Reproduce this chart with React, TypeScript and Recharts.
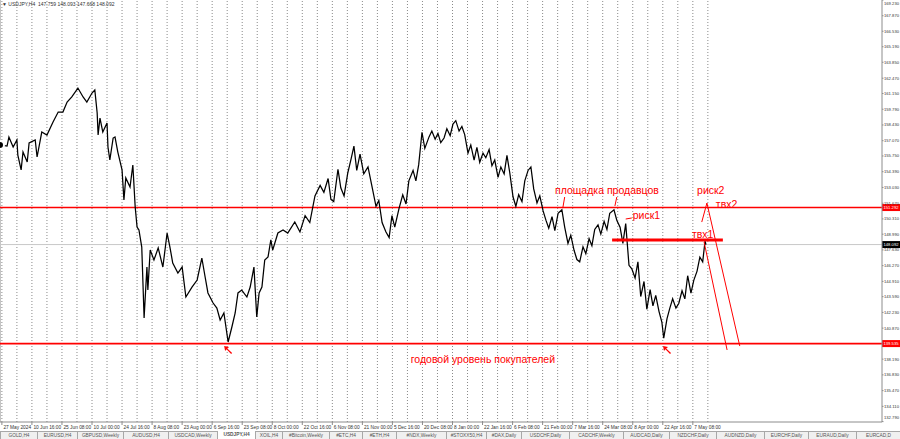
import React from 'react'
import { ComposedChart, Line, XAxis, YAxis, ReferenceLine, ReferenceDot } from 'recharts'

const RED = '#ff0000'
const AXIS = '#8c8c8c'
const FONT = '"Liberation Sans", Arial, sans-serif'

const barIndex = [
  0, 15, 19, 28, 36, 38, 45, 49, 58, 62, 75, 79, 89, 100, 113, 124, 134, 143, 153, 166,
  177, 185, 196, 202, 207, 209, 213, 219, 228, 230, 234, 241, 245, 251, 260, 264, 268, 277, 283, 288,
  292, 296, 302, 307, 313, 315, 320, 328, 337, 347, 356, 362, 368, 379, 388, 396, 409, 420, 430, 437,
  443, 454, 462, 469, 477, 486, 494, 501, 507, 515, 526, 533, 541, 547, 552, 558, 564, 571, 577, 581,
  592, 603, 613, 628, 639, 650, 660, 671, 682, 690, 699, 705, 711, 720, 726, 733, 741, 748, 754, 760,
  767, 775, 784, 792, 801, 807, 814, 822, 829, 835, 841, 850, 858, 865, 871, 880, 886, 892, 899, 905,
  914, 920, 927, 933, 939, 946, 952, 959, 965, 971, 978, 984, 990, 997, 1003, 1010, 1016, 1022, 1029, 1035,
  1042, 1048, 1054, 1061, 1067, 1074, 1080, 1086, 1093, 1099, 1105, 1112, 1118, 1125, 1131, 1137, 1144, 1150, 1157, 1163,
  1169, 1176, 1182, 1189, 1197, 1203, 1210, 1216, 1223, 1229, 1235, 1242, 1248, 1255, 1261, 1267, 1274, 1280, 1287, 1293,
  1299, 1308, 1314, 1321, 1327, 1333, 1340, 1346, 1353, 1359, 1365, 1372, 1378, 1385, 1391, 1397, 1404, 1410, 1414, 1421,
  1427, 1433, 1440, 1446, 1453, 1459, 1465, 1472, 1478, 1485, 1491, 1497, 1502, 1504,
]
const closePrice = [
  156.7, 156.61, 157.39, 156.52, 157.13, 155.83, 154.54, 156.09, 155.23, 156.87, 157.13, 155.66, 157.82, 157.56, 158.69, 159.55, 159.55, 160.41, 160.85, 161.62,
  160.85, 160.41, 161.19, 161.45, 159.46, 157.56, 159.03, 157.82, 158.6, 156.52, 155.4, 157.3, 157.39, 156.09, 154.54, 151.94, 153.85, 153.07, 154.97, 151.34,
  149.61, 149.35, 147.88, 141.74, 146.15, 144.16, 147.62, 146.76, 147.8, 146.15, 149.09, 147.88, 146.5, 145.63, 146.15, 143.56, 144.42, 145.03, 146.93, 145.29,
  143.91, 143.04, 142.61, 141.57, 142.18, 139.67, 140.97, 142.18, 143.91, 144.16, 143.56, 144.42, 146.15, 141.83, 143.91, 144.42, 146.76, 147.02, 148.49, 147.62,
  149.09, 149.35, 149.09, 150.04, 149.18, 150.6, 150.0, 152.3, 153.2, 152.6, 153.8, 152.0, 151.8, 154.6, 153.0, 152.3, 154.3, 155.5, 156.6, 154.5,
  155.9, 154.2, 154.8, 153.2, 151.4, 151.9, 150.0, 149.2, 148.7, 150.6, 149.6, 151.2, 152.4, 151.6, 153.6, 154.5, 153.6, 155.0, 157.8, 156.4,
  157.4, 157.9, 157.2, 157.7, 156.9, 157.3, 158.1, 157.5, 158.5, 158.8, 157.9, 158.3, 157.6, 156.0, 156.7, 155.4, 156.5, 155.2, 156.0, 155.6,
  156.3, 154.9, 155.4, 153.9, 154.8, 154.2, 155.8, 154.3, 152.2, 151.4, 152.4, 151.8, 153.6, 154.5, 154.8, 152.9, 151.7, 152.3, 151.0, 150.2,
  149.5, 150.5, 149.3, 150.8, 151.1, 149.6, 148.2, 148.9, 147.6, 146.8, 146.6, 147.9, 147.3, 148.6, 148.0, 149.4, 149.8, 149.0, 150.1, 149.4,
  150.8, 151.1, 150.2, 149.6, 148.2, 149.9, 146.3, 146.0, 145.2, 146.6, 143.6, 144.9, 142.5, 144.2, 142.8, 143.7, 142.3, 141.4, 140.0, 141.7,
  142.6, 143.4, 142.6, 143.0, 144.1, 143.4, 145.4, 143.9, 145.0, 145.8, 147.0, 146.6, 148.4, 148.092,
]

const dateTicks = [4, 68, 132, 196, 260, 324, 388, 452, 516, 580, 644, 708, 772, 836, 900, 964, 1028, 1092, 1156, 1220, 1284, 1348, 1412, 1476]
const dateLabels = [
  '27 May 2024', '10 Jun 16:00', '25 Jun 08:00', '10 Jul 00:00', '24 Jul 16:00', '8 Aug 08:00',
  '23 Aug 00:00', '6 Sep 16:00', '23 Sep 08:00', '8 Oct 00:00', '22 Oct 16:00', '6 Nov 08:00',
  '21 Nov 00:00', '5 Dec 16:00', '20 Dec 08:00', '8 Jan 00:00', '22 Jan 16:00', '6 Feb 08:00',
  '21 Feb 00:00', '7 Mar 16:00', '24 Mar 08:00', '8 Apr 00:00', '22 Apr 16:00', '7 May 08:00',
]

const priceTicks = [
  169.23, 167.87, 166.53, 165.19, 163.85, 162.47, 161.15, 159.79, 158.43, 157.07, 155.75, 154.39, 153.03, 151.67,
  150.31, 148.99, 147.63, 146.27, 144.91, 143.59, 142.23, 140.87, 138.19, 136.83, 135.47, 134.11, 132.79,
]

const sellersLevel = 151.292
const bidPrice = 148.092
const buyersLevel = 139.535

// hand-drawn objects on the chart, in bar / price
const segments = [
  { a: [1304, 148.49], b: [1540, 148.49], w: 3 },
  { a: [1500, 148.31], b: [1549, 138.98], w: 1 },
  { a: [1495, 150.04], b: [1506, 151.68], w: 1 },
  { a: [1506, 151.68], b: [1576, 139.32], w: 1 },
  { a: [1203, 152.2], b: [1199, 151.25], w: 1 },
  { a: [1314, 152.2], b: [1310, 151.43], w: 1 },
  { a: [1333, 150.3], b: [1346, 150.39], w: 1 },
]
const notes = [
  { bar: 1293, price: 152.81, text: 'площадка продавцов', anchor: 'middle' },
  { bar: 1348, price: 150.65, text: 'риск1', anchor: 'start' },
  { bar: 1474, price: 149.0, text: 'твх1', anchor: 'start' },
  { bar: 1485, price: 152.81, text: 'риск2', anchor: 'start' },
  { bar: 1525, price: 151.6, text: 'твх2', anchor: 'start' },
  { bar: 875, price: 138.2, text: 'годовой уровень покупателей', anchor: 'start' },
]
const arrows = [
  { bar: 486, price: 138.98 },
  { bar: 1421, price: 138.98 },
]

const tabNames = [
  'GOLD,H4', 'EURUSD,H4', 'GBPUSD,Weekly', 'AUDUSD,H4', 'USDCAD,Weekly', 'USDJPY,H4', 'XOIL,H4', '#Bitcoin,Weekly',
  '#ETC,H4', '#ETH,H4', '#NDX,Weekly', '#STOXX50,H4', '#DAX,Daily', 'USDCHF,Daily', 'CADCHF,Weekly', 'AUDCAD,Daily',
  'NZDCHF,Daily', 'AUDNZD,Daily', 'EURCHF,Daily', 'EURAUD,Daily', 'EURCAD,D',
]
const tabWidths = [37, 40, 46, 45, 49, 38, 27, 47, 33, 34, 50, 40, 35, 48, 54, 46, 47, 48, 44, 48, 44]

const data = barIndex.map((bar, i) => ({ bar, close: closePrice[i] }))
const gridBars = dateTicks.flatMap((b) => [b, b + 32]).filter((b) => b <= 1510)

const DateTick = (props: any) => {
  const { x, y, payload } = props
  const i = dateTicks.indexOf(payload.value)
  return (
    <g>
      <line x1={x} x2={x} y1={y} y2={y + 3} stroke={AXIS} />
      <text x={x + 1.5} y={y + 6.5} fontSize={4.8} fill="#333" fontFamily={FONT}>
        {dateLabels[i]}
      </text>
    </g>
  )
}

const PriceTick = (props: any) => {
  const { x, y, payload } = props
  const ty = Math.min(Math.max(y, 3), 417)
  return (
    <g>
      <line x1={x} x2={x + 1.5} y1={y} y2={y} stroke={AXIS} />
      <text x={x + 2} y={ty + 1.5} fontSize={4.2} fill="#333" fontFamily={FONT} textLength={15} lengthAdjust="spacingAndGlyphs">
        {payload.value.toFixed(3)}
      </text>
    </g>
  )
}

const axisTag = (text: string, bg: string) => (props: any) => {
  const { viewBox } = props
  const x = viewBox.x + viewBox.width
  const y = viewBox.y
  return (
    <g>
      <rect x={x} y={y - 3.5} width={18} height={7} fill={bg} />
      <text x={x + 1.5} y={y + 1.6} fontSize={4.2} fill="#fff" fontFamily={FONT} textLength={15} lengthAdjust="spacingAndGlyphs">
        {text}
      </text>
    </g>
  )
}

const noteShape = (text: string, anchor: string) => (p: any) => (
  <text x={p.cx} y={p.cy + 3.6} fontSize={10.5} fill={RED} textAnchor={anchor} fontFamily={FONT}>
    {text}
  </text>
)

const arrowShape = (p: any) => {
  const { cx, cy } = p
  return (
    <path
      d={`M${cx - 4},${cy - 4} L${cx + 1},${cy - 3} L${cx - 0.8},${cy - 1.6} L${cx + 4},${cy + 3} L${cx + 3},${cy + 4} L${cx - 1.6},${cy - 0.8} L${cx - 3},${cy + 1} Z`}
      fill={RED}
    />
  )
}

export default function App() {
  return (
    <div style={{ position: 'fixed', left: 0, top: 0, width: 900, height: 439, background: '#fff', overflow: 'hidden' }}>
      <ComposedChart width={900} height={439} data={data} margin={{ top: 0, right: 0, bottom: 0, left: 0 }}>
        <XAxis
          dataKey="bar"
          type="number"
          domain={[0, 1879]}
          ticks={dateTicks}
          height={17}
          stroke={AXIS}
          tickSize={0}
          tickMargin={0}
          tick={<DateTick />}
          interval={0}
          allowDataOverflow
        />
        <YAxis
          orientation="right"
          type="number"
          domain={[132.757, 169.23]}
          ticks={priceTicks}
          width={18}
          stroke={AXIS}
          tickSize={0}
          tickMargin={0}
          tick={<PriceTick />}
          interval={0}
          allowDataOverflow
        />
        {gridBars.map((b) => (
          <ReferenceLine key={`g${b}`} x={b} stroke="#8a8a8a" strokeDasharray="1 2" />
        ))}
        <ReferenceLine x={0} stroke={AXIS} />
        <ReferenceLine y={bidPrice} stroke="#c8c8c8" label={axisTag('148.092', '#000')} />
        <ReferenceLine y={sellersLevel} stroke={RED} strokeWidth={1.5} label={axisTag('151.292', RED)} />
        <ReferenceLine y={buyersLevel} stroke={RED} strokeWidth={1.7} label={axisTag('139.535', RED)} />
        <Line dataKey="close" type="linear" stroke="#000" strokeWidth={1.25} dot={false} isAnimationActive={false} />
        {segments.map((s, i) => (
          <ReferenceLine
            key={`s${i}`}
            segment={[{ x: s.a[0], y: s.a[1] }, { x: s.b[0], y: s.b[1] }]}
            stroke={RED}
            strokeWidth={s.w}
          />
        ))}
        {arrows.map((a, i) => (
          <ReferenceDot key={`a${i}`} x={a.bar} y={a.price} r={4} shape={arrowShape} />
        ))}
        {notes.map((n, i) => (
          <ReferenceDot key={`n${i}`} x={n.bar} y={n.price} r={1} shape={noteShape(n.text, n.anchor)} />
        ))}
      </ComposedChart>
      <div
        style={{ position: 'absolute', left: 2, top: 1, fontSize: 5, fontFamily: FONT, color: '#333', whiteSpace: 'pre', lineHeight: '6px' }}
      >
        {'▼ USDJPY,H4  147.759 148.093 147.668 148.092'}
      </div>
      <div style={{ position: 'absolute', left: 0, top: 431, width: 900, height: 8, background: '#f0f0f0', display: 'flex' }}>
        {tabNames.map((t, i) => (
          <div
            key={t}
            style={{
              width: tabWidths[i],
              boxSizing: 'border-box',
              borderLeft: '1px solid #a8a8a8',
              borderTop: i === 5 ? 'none' : '1px solid #a8a8a8',
              background: i === 5 ? '#fff' : '#f0f0f0',
              fontSize: 4.8,
              fontFamily: FONT,
              color: '#555',
              fontWeight: i === 5 ? 'bold' : 'normal',
              textAlign: 'center',
              lineHeight: '7px',
              whiteSpace: 'nowrap',
              overflow: 'hidden',
            }}
          >
            {t}
          </div>
        ))}
      </div>
    </div>
  )
}
